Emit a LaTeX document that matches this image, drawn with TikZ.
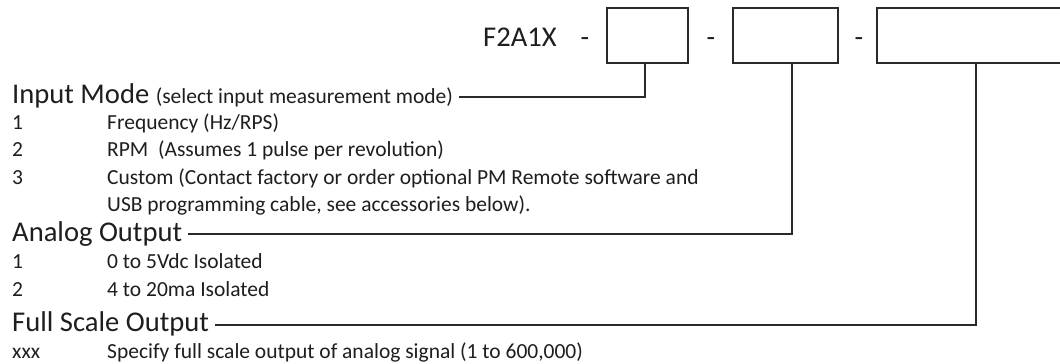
\documentclass[tikz,border=0pt]{standalone}
\usepackage{fontspec}
\setmainfont{Carlito}
\definecolor{ink}{HTML}{1E1E1E}
\definecolor{rule}{HTML}{2A2A2A}
\begin{document}
\begin{tikzpicture}[x=1pt,y=-1pt,
  big/.style={font=\fontsize{28.6}{30}\selectfont, anchor=base west, inner sep=0pt, text=ink},
  body/.style={font=\fontsize{21.5}{24}\selectfont, anchor=base west, inner sep=0pt, text=ink},
  dashmark/.style={font=\fontsize{28}{30}\selectfont, anchor=base, inner sep=0pt, text=ink},
  codebox/.style={draw=rule, line width=1.6pt, minimum height=55pt, inner sep=0pt},
  lead/.style={draw=rule, line width=1.6pt}]
\useasboundingbox (0,0) rectangle (1060,364);
\fill[white] (0,0) rectangle (1060,364);

% model code
\node[big] (code) at (483,46) {F2A1X};
\node[dashmark] (d1) at (585,46) {-};
\node[codebox, minimum width=81pt] (b1) at (647.5,35.5) {};
\node[dashmark] (d2) at (711,46) {-};
\node[codebox, minimum width=105pt] (b2) at (785.5,35.5) {};
\node[dashmark] (d3) at (859,46) {-};
\node[codebox, minimum width=198pt] (b3) at (976,35.5) {};

% Input mode
\node[big] (h1) at (12,103) {Input Mode {\fontsize{21.5}{24}\selectfont (select input measurement mode)}};
\node[body] (n11) at (12,129) {1};
\node[body] (t11) at (107,129) {Frequency (Hz/RPS)};
\node[body] (n12) at (12,156) {2};
\node[body] (t12) at (107,156) {RPM\ \ (Assumes 1 pulse per revolution)};
\node[body] (n13) at (12,184) {3};
\node[body] (t13) at (107,184) {Custom (Contact factory or order optional PM Remote software and};
\node[body] (t14) at (107,211) {USB programming cable, see accessories below).};

% Analog output
\node[big] (h2) at (12,241) {Analog Output};
\node[body] (n21) at (12,268) {1};
\node[body] (t21) at (107,268) {0 to 5Vdc Isolated};
\node[body] (n22) at (12,296) {2};
\node[body] (t22) at (107,296) {4 to 20ma Isolated};

% Full scale output
\node[big] (h3) at (12,331) {Full Scale Output};
\node[body] (n31) at (12,358) {xxx};
\node[body] (t31) at (107,358) {Specify full scale output of analog signal (1 to 600,000)};

% leaders
\coordinate (e1) at ([xshift=6pt,yshift=6pt]h1.base east);
\coordinate (e2) at ([xshift=6pt,yshift=7pt]h2.base east);
\coordinate (e3) at ([xshift=6pt,yshift=6pt]h3.base east);
\draw[lead] ([xshift=-2.5pt]b1.south) |- (e1);
\draw[lead] ([xshift=6.5pt]b2.south) |- (e2);
\draw[lead] (b3.south) |- (e3);
\end{tikzpicture}
\end{document}
